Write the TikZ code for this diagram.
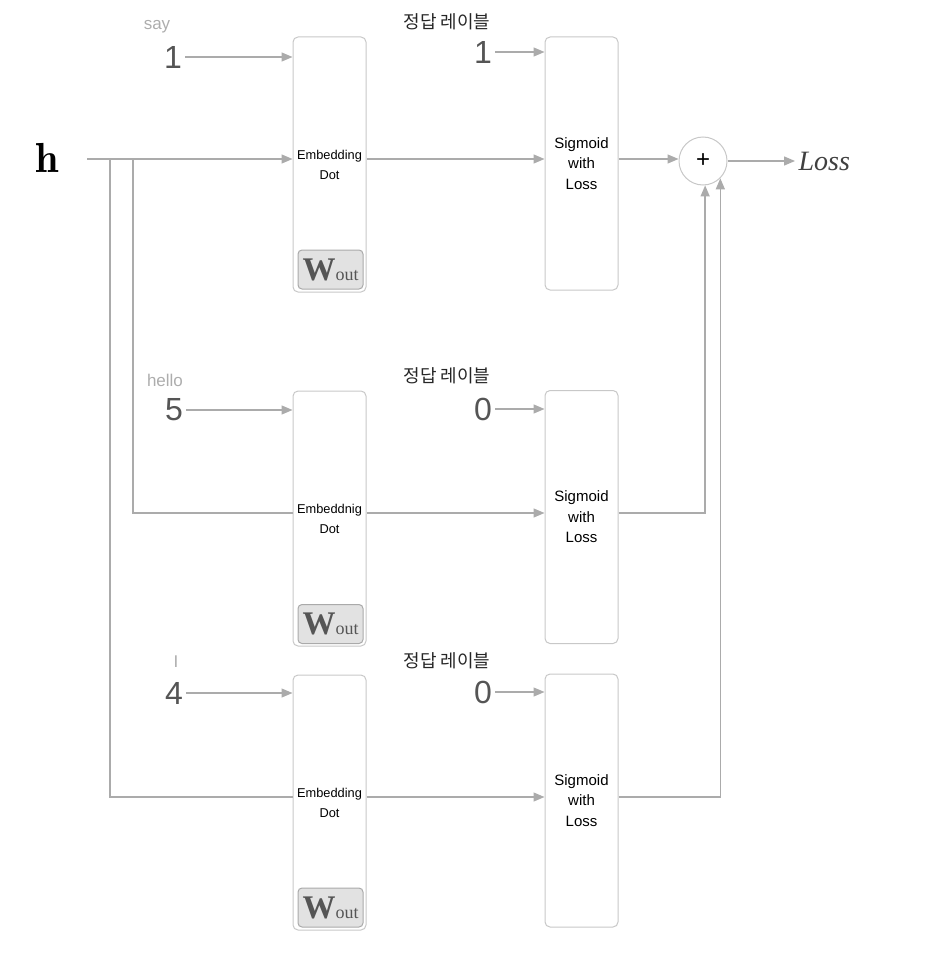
\documentclass[tikz,border=0pt]{standalone}
\usepackage{fontspec}
\newfontfamily\sansfont{Liberation Sans}
\newfontfamily\seriffont{Liberation Serif}
\newfontfamily\krfont{Noto Sans CJK KR}
\usetikzlibrary{arrows.meta}
\definecolor{linegray}{HTML}{ABABAB}
\definecolor{boxgray}{HTML}{C8C8C8}
\definecolor{numgray}{HTML}{555555}
\definecolor{wordgray}{HTML}{ADADAD}
\definecolor{wfill}{HTML}{E2E2E2}
\newcommand{\Wout}{{\seriffont\bfseries\fontsize{33}{33}\selectfont W}{\seriffont\fontsize{18}{18}\selectfont out}}

\tikzset{
  layer/.style={draw=boxgray, line width=1pt, rounded corners=5pt, fill=white, minimum width=73pt, inner sep=0pt, align=center, font=\sansfont\fontsize{12.8}{20}\selectfont},
  embed/.style={layer, minimum height=255pt},
  sigm/.style={layer, minimum height=253pt, font=\sansfont\fontsize{15}{20.5}\selectfont},
  wout/.style={draw=boxgray!85!black, fill=wfill, line width=1pt, rounded corners=4pt, minimum width=65pt, minimum height=39pt, inner sep=0pt, text=numgray},
  num/.style={text=numgray, font=\sansfont\fontsize{32}{32}\selectfont},
  word/.style={text=wordgray, font=\sansfont\fontsize{17}{17}\selectfont},
  answerlbl/.style={text=black!85, font=\krfont\fontsize{18}{18}\selectfont},
  wire/.style={draw=linegray, line width=1.3pt},
  arr/.style={wire, -{Triangle[length=11pt, width=9pt]}},
}

\begin{document}
\begin{tikzpicture}[x=1pt, y=-1pt]
        \useasboundingbox (0,0) rectangle (924,955);
    % Embedding Dot layers with their weights.
        \node[embed] (emb1) at (329.5,164.5) {Embedding\\Dot};
        \node[embed] (emb2) at (329.5,518.5) {Embeddnig\\Dot};
        \node[embed] (emb3) at (329.5,802.5) {Embedding\\Dot};
        \node[wout] (w1) at (330.5,269.5) {\Wout};
        \node[wout] (w2) at (330.5,624) {\Wout};
        \node[wout] (w3) at (330.5,907.5) {\Wout};
    % Sigmoid with Loss layers.
        \node[sigm] (sig1) at (581.5,163.5) {Sigmoid\\with\\Loss};
        \node[sigm] (sig2) at (581.5,517) {Sigmoid\\with\\Loss};
        \node[sigm] (sig3) at (581.5,800.5) {Sigmoid\\with\\Loss};
    % Below nodes are the word ids.
        \node[word] (say) at (157,27) {say};
        \node[num] (id1) at (173,57) {1};
        \node[word] (hello) at (165,380) {hello};
        \node[num] (id2) at (174,410) {5};
        \node[word] (I) at (176,662) {I};
        \node[num] (id3) at (174,693) {4};
        \draw[arr] (id1.east) -- (id1.east -| emb1.west);
        \draw[arr] (id2.east) -- (id2.east -| emb2.west);
        \draw[arr] (id3.east) -- (id3.east -| emb3.west);
    % Below nodes are the labels.
        \node[answerlbl] (ans1) at (447,22) {정답 레이블};
        \node[answerlbl] (ans2) at (447,376) {정답 레이블};
        \node[answerlbl] (ans3) at (447,661) {정답 레이블};
        \node[num] (t1) at (483,52) {1};
        \node[num] (t2) at (483,409) {0};
        \node[num] (t3) at (483,692) {0};
        \draw[arr] (t1.east) -- (t1.east -| sig1.west);
        \draw[arr] (t2.east) -- (t2.east -| sig2.west);
        \draw[arr] (t3.east) -- (t3.east -| sig3.west);
    % The h input and its branches.
        \node (h) at (47,158) {\fontsize{42}{42}\selectfont$\mathbf{h}$};
        \coordinate (hs) at (87,159);
        \coordinate (s1) at (110,159);
        \coordinate (s2) at (133,159);
        \coordinate (m2) at (emb2.west |- 0,513);
        \coordinate (m3) at (emb3.west |- 0,797);
        \draw[arr] (hs) -- (hs -| emb1.west);
        \draw[wire] (s2) |- (m2);
        \draw[wire] (s1) |- (m3);
        \draw[arr] (hs -| emb1.east) -- (hs -| sig1.west);
        \draw[arr] (m2 -| emb2.east) -- (m2 -| sig2.west);
        \draw[arr] (m3 -| emb3.east) -- (m3 -| sig3.west);
    % This draws the sum and the loss.
        \node[draw=boxgray, line width=1pt, circle, minimum size=48pt, inner sep=0pt, fill=white, font=\sansfont\fontsize{24}{24}\selectfont] (plus) at (703,161) {+};
        \node[anchor=west, text=black!75, font=\seriffont\itshape\fontsize{28}{28}\selectfont] (loss) at (795,161) {Loss};
        \draw[arr] (hs -| sig1.east) -- (hs -| plus.west);
        \draw[arr] (plus.east) -- (loss.west);
        \draw[arr] (m2 -| sig2.east) -| (plus.-85);
        \draw[arr] (m3 -| sig3.east) -| (plus.-45);
    \end{tikzpicture}
\end{document}
